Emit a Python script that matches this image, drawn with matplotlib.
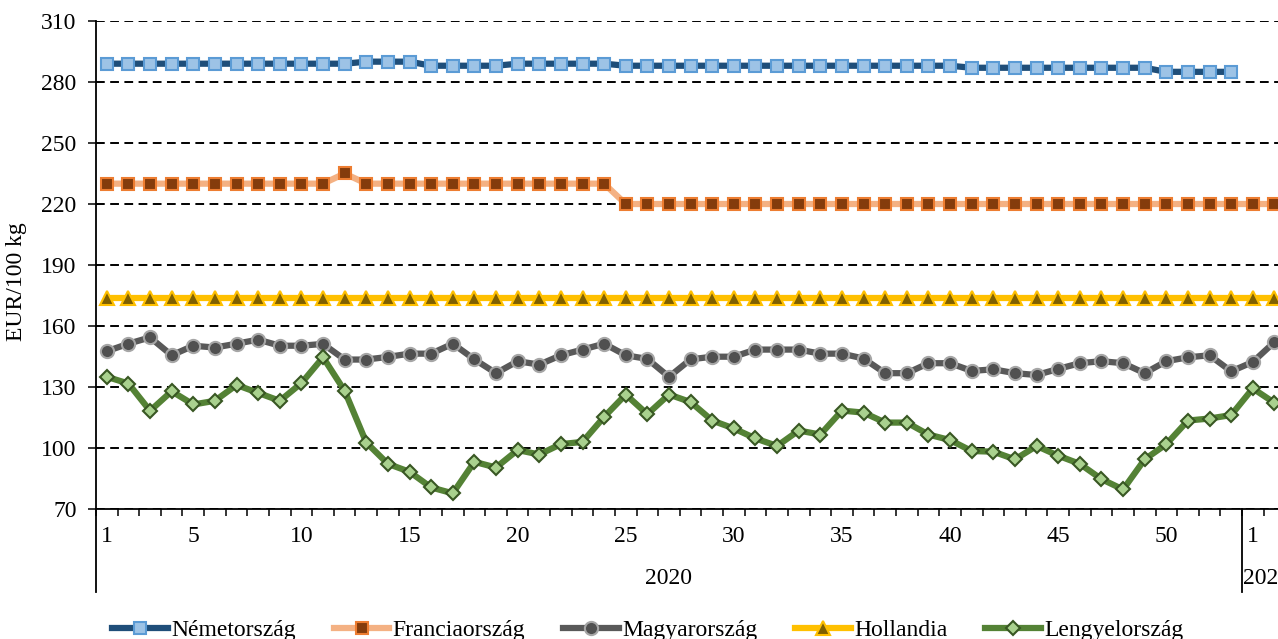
import numpy as np
import matplotlib
matplotlib.use("Agg")
import matplotlib.pyplot as plt
from matplotlib.lines import Line2D

plt.rcParams['font.family'] = ['Liberation Serif', 'DejaVu Serif']

# ---- data ----
weeks_2020 = list(range(1, 54))
weeks_2021 = [1, 2]
years = ["2020", "2021"]
series_names = ["Németország", "Franciaország", "Magyarország", "Hollandia", "Lengyelország"]

germany = ([289] * 12 + [290] * 3 + [288] * 4 + [289] * 5 + [288] * 16 + [287] * 9 + [285] * 4)
france = ([230] * 11 + [235] + [230] * 12 + [220] * 29 + [220, 220])
hungary = [147.6, 151.3, 154.4, 145.6, 150.3, 149.4, 151.3, 153.3, 150.3, 150.3,
           151.2, 143.5, 143.5, 144.8, 146.4, 146.4, 151.3, 143.6, 136.8, 142.7,
           141.0, 145.6, 148.4, 151.3, 145.6, 143.8, 135.0, 143.6, 144.9, 144.9,
           148.4, 148.4, 148.4, 146.4, 146.4, 144.0, 136.8, 136.8, 141.7, 141.7,
           137.9, 138.7, 136.8, 135.9, 138.9, 141.7, 142.7, 141.7, 136.8, 142.7,
           144.6, 145.6, 137.7, 142.3, 152.1]
netherlands = [174] * 55
poland = [135.0, 131.7, 118.3, 127.9, 121.4, 123.2, 131.0, 127.1, 123.2, 131.9,
          144.6, 128.1, 102.7, 92.2, 88.3, 80.6, 77.7, 93.2, 90.4, 99.0,
          96.8, 101.9, 103.0, 115.3, 126.3, 116.6, 126.3, 122.6, 113.5, 109.6,
          104.7, 101.0, 108.6, 106.6, 118.4, 117.4, 112.5, 112.5, 106.6, 103.9,
          98.5, 98.2, 94.4, 101.0, 96.2, 92.2, 84.7, 79.6, 94.4, 101.9,
          113.5, 114.5, 116.2, 129.3, 122.2]
shown_2020 = [1, 5, 10, 15, 20, 25, 30, 35, 40, 45, 50]
shown_2021 = [1]
yticks = [70, 100, 130, 160, 190, 220, 250, 280, 310]

# ---- figure ----
W, H = 1278, 639
fig = plt.figure(figsize=(W / 100, H / 100), dpi=100)
ax_l, ax_r, ax_t, ax_b = 96, 1278, 21, 509
ax = fig.add_axes([ax_l / W, 1 - ax_b / H, (ax_r - ax_l) / W, (ax_b - ax_t) / H])

labels_all = [str(w) for w in weeks_2020] + [str(w) for w in weeks_2021]
idx = np.arange(len(labels_all))
n20 = len(weeks_2020)

styles = [
    dict(color="#1F4E79", marker="s", mfc="#9DC3E6", mec="#5B9BD5", ms=8.5),
    dict(color="#F4B183", marker="s", mfc="#843C0C", mec="#ED7D31", ms=8.5),
    dict(color="#595959", marker="o", mfc="#505050", mec="#A6A6A6", ms=9.5),
    dict(color="#FFC000", marker="^", mfc="#7F6000", mec="#FFC000", ms=9.5),
    dict(color="#548235", marker="D", mfc="#A9D18E", mec="#385723", ms=7.5),
]
data = [germany, france, hungary, netherlands, poland]
handles = []
for name, vals, st in zip(series_names, data, styles):
    x = idx[:len(vals)]
    h, = ax.plot(x, vals, lw=4.5, mew=1.5, label=name, zorder=3, **st)
    handles.append(h)

major_pos = [w - 1 for w in shown_2020] + [n20 + w - 1 for w in shown_2021]
major_lab = [str(w) for w in shown_2020] + [str(w) for w in shown_2021]
ax.set_xticks(major_pos)
ax.set_xticklabels(major_lab)
ax.set_xticks(np.arange(-0.5, len(labels_all) + 1, 1), minor=True)
ax.set_yticks(yticks)

step = (1242 - 96) / 53.0
ax.set_xlim(-0.5, -0.5 + (ax_r - ax_l) / step)
ax.set_ylim(70, 310)
ax.yaxis.grid(True, color="black", linestyle=(0, (4.5, 2.8)), lw=1.4)
ax.set_axisbelow(True)

ax.tick_params(axis="x", which="major", length=0, pad=12, labelsize=17)
ax.tick_params(axis="x", which="minor", length=5, width=1.1, direction="out", color="black")
ax.tick_params(axis="y", length=6, width=1.1, direction="out", pad=8, labelsize=17)

for s in ["top", "right"]:
    ax.spines[s].set_visible(False)
for s in ["left", "bottom"]:
    ax.spines[s].set_color("black")
    ax.spines[s].set_linewidth(1.3)

# group separators and year labels
trans = ax.get_xaxis_transform()
sep_y = -(592 - ax_b) / (ax_b - ax_t)
for xs in [-0.5, n20 - 0.5]:
    ax.add_line(Line2D([xs, xs], [0, sep_y], transform=trans, color="black", lw=1.3, clip_on=False))
year_y = -(579 - ax_b) / (ax_b - ax_t)
ax.text((n20 - 1) / 2, year_y, years[0], transform=trans, ha="center", va="center", fontsize=17)
ax.text(n20 - 0.45, year_y, years[1], transform=trans, ha="left", va="center", fontsize=17)

fig.text(17 / W, 1 - 282 / H, "EUR/100 kg", rotation=90, ha="center", va="center", fontsize=17)

fig.legend(handles=handles, loc="center", bbox_to_anchor=(648 / W, 1 - 630 / H), ncol=5,
           frameon=False, fontsize=17, handlelength=2.35, handletextpad=0.15,
           columnspacing=1.6, borderpad=0, numpoints=1)

fig.savefig("out.png", dpi=100)
